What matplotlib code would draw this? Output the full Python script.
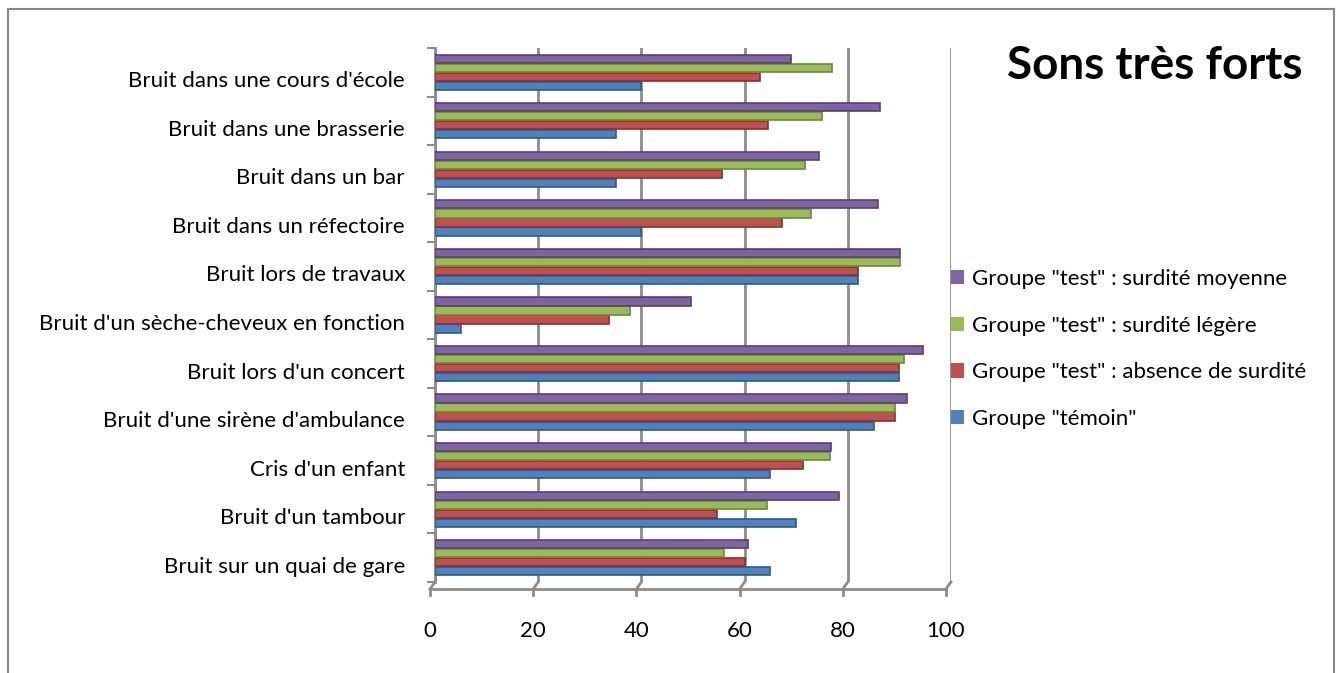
import matplotlib
matplotlib.use("Agg")
import matplotlib.pyplot as plt
import matplotlib.transforms as mtransforms
from matplotlib.patches import Rectangle, Patch
import numpy as np

plt.rcParams['font.family'] = ['Lato', 'DejaVu Sans']

# categories, top to bottom as in the chart
categories = [
    "Bruit dans une cours d'école",
    "Bruit dans une brasserie",
    "Bruit dans un bar",
    "Bruit dans un réfectoire",
    "Bruit lors de travaux",
    "Bruit d'un sèche-cheveux en fonction",
    "Bruit lors d'un concert",
    "Bruit d'une sirène d'ambulance",
    "Cris d'un enfant",
    "Bruit d'un tambour",
    "Bruit sur un quai de gare",
]
temoin   = [40, 35, 35, 40, 82, 5, 90, 85, 65, 70, 65]
absence  = [63, 64.5, 55.6, 67.2, 82, 33.8, 90, 89.2, 71.4, 54.7, 60]
legere   = [77, 75, 71.7, 72.8, 90.1, 37.8, 90.8, 89.2, 76.6, 64.4, 56]
moyenne  = [69, 86.3, 74.5, 85.8, 90.2, 49.7, 94.6, 91.4, 76.8, 78.2, 60.7]

series_names = ['Groupe "témoin"', 'Groupe "test" : absence de surdité',
                'Groupe "test" : surdité légère', 'Groupe "test" : surdité moyenne']
colors = ['#4F81BD', '#C0504D', '#9BBB59', '#8064A2']
edges = ['#2C5A8E', '#8C2F2C', '#6A8A35', '#56407A']
xticks = [0, 20, 40, 60, 80, 100]

W, H = 1341, 673
fig = plt.figure(figsize=(W / 100, H / 100), dpi=100)
ax = fig.add_axes([435 / W, 91 / H, 516 / W, 534 / H])

n = len(categories)
ypos = np.arange(n)[::-1]
step = 0.186
thick = 0.17
for k, (vals, c, ec) in enumerate(zip([temoin, absence, legere, moyenne], colors, edges)):
    ax.barh(ypos + (k - 1.5) * step, vals, height=thick, color=c,
            edgecolor=ec, linewidth=1.2, zorder=3)

grid_c = '#8C8C8C'
ax.set_xlim(0, 100)
ax.set_ylim(-0.5, n - 0.5)
ax.set_xticks(xticks)
ax.set_xticklabels([str(v) for v in xticks], fontsize=16)
ax.set_yticks(ypos)
ax.set_yticklabels(categories, fontsize=16)
ax.tick_params(axis='x', length=0, pad=28)
ax.tick_params(axis='y', length=0, pad=21.6)
ax.set_yticks(np.arange(-0.5, n), minor=True)
ax.tick_params(axis='y', which='minor', length=6, width=1.5, color=grid_c, direction='out')
ax.xaxis.grid(True, color=grid_c, linewidth=2, zorder=0)
for s in ['top', 'bottom', 'right']:
    ax.spines[s].set_visible(False)
ax.spines['left'].set_color(grid_c)
ax.spines['left'].set_linewidth(2)

# front (3D) offset
front = ax.transData + mtransforms.ScaledTranslation(-5 / 100, -7 / 100, fig.dpi_scale_trans)
ax.plot([0, 100], [-0.5, -0.5], color=grid_c, lw=2, transform=front, clip_on=False)
for v in xticks:
    ax.plot([v, v], [-0.5, -0.5 - 0.13], color=grid_c, lw=2, transform=front, clip_on=False)
    # diagonal from front axis to back plane
    x0, y0 = front.transform((v, -0.5))
    x1, y1 = ax.transData.transform((v, -0.5))
    ax.add_line(plt.Line2D([x0, x1], [y0, y1], color=grid_c, lw=2,
                           transform=None, clip_on=False))

lab_off = mtransforms.ScaledTranslation(-5 / 100, 0, fig.dpi_scale_trans)
for lbl in ax.get_xticklabels():
    lbl.set_transform(lbl.get_transform() + lab_off)
ylab_off = mtransforms.ScaledTranslation(0, -7 / 100, fig.dpi_scale_trans)
for lbl in ax.get_yticklabels():
    lbl.set_transform(lbl.get_transform() + ylab_off)

fig.text(1155 / W, 1 - 66 / H, "Sons très forts", ha='center', va='center',
         fontsize=33, fontweight='bold')

handles = [Patch(facecolor=c) for c in colors[::-1]]
fig.legend(handles=handles, labels=series_names[::-1], loc='upper left',
           bbox_to_anchor=(951 / W, 1 - 269 / H), frameon=False, fontsize=16,
           handlelength=0.6, handleheight=0.6, handletextpad=0.35,
           labelspacing=1.2, borderpad=0, borderaxespad=0)

fig.patches.append(Rectangle((8 / W, -0.1), (1334 - 8) / W, (H - 9) / H + 0.1,
                             transform=fig.transFigure, fill=False,
                             edgecolor='#878787', linewidth=1.5))

fig.savefig("out.png", dpi=100)
